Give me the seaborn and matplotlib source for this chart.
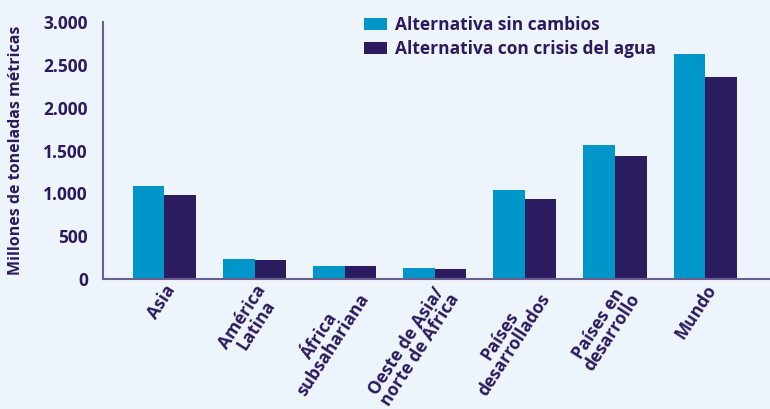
import matplotlib
matplotlib.use("Agg")
import matplotlib.pyplot as plt
import pandas as pd
import seaborn as sns

regiones = ["Asia", "América\nLatina", "África\nsubsahariana", "Oeste de Asia/\nnorte de África",
            "Países\ndesarrollados", "Países en\ndesarrollo", "Mundo"]
sin_cambios = [1085, 233, 152, 128, 1040, 1565, 2625]
crisis_agua = [980, 222, 150, 117, 935, 1435, 2358]
series = ["Alternativa sin cambios", "Alternativa con crisis del agua"]

df = pd.DataFrame({
    "region": regiones * 2,
    "valor": sin_cambios + crisis_agua,
    "serie": [series[0]] * len(regiones) + [series[1]] * len(regiones),
})

bg = "#EEF4FB"
navy = "#2B1B5E"
axis_col = "#6B5F92"

sns.set_theme(style="white")
plt.rcParams["font.family"] = ["Open Sans", "DejaVu Sans"]
plt.rcParams["font.weight"] = "bold"

fig = plt.figure(figsize=(7.7, 4.09), dpi=100, facecolor=bg)
ax = fig.add_axes([0.134, 0.318, 0.866, 0.628])
ax.set_facecolor(bg)

sns.barplot(data=df, x="region", y="valor", hue="serie", palette=["#0096C9", "#2A1C5F"],
            width=0.7, saturation=1, linewidth=0, ax=ax)

ax.set_ylim(0, 3000)
ax.set_xlim(-0.68, 6.72)
ax.set_yticks(range(0, 3001, 500))
ax.set_yticklabels(["0", "500", "1.000", "1.500", "2.000", "2.500", "3.000"],
                   fontsize=12.5, fontweight="bold", color=navy)
ax.set_xticks(range(len(regiones)))
ax.set_xticklabels(regiones, rotation=57, ha="right", va="top", rotation_mode="anchor",
                   fontsize=12.5, fontweight="bold", color=navy, linespacing=0.85,
                   multialignment="center")
ax.tick_params(axis="y", direction="inout", length=14, width=1.2, color=axis_col, pad=4)
ax.tick_params(axis="x", length=0, pad=2)
ax.set_xlabel("")
ax.set_ylabel("Millones de toneladas métricas", fontsize=11.5, fontweight="bold", color=navy, labelpad=14)

for s in ["top", "right"]:
    ax.spines[s].set_visible(False)
for s in ["left", "bottom"]:
    ax.spines[s].set_color(axis_col)
    ax.spines[s].set_linewidth(1.5)

ax.legend(loc="upper left", bbox_to_anchor=(0.368, 1.085), frameon=False,
          handlelength=1.3, handleheight=0.7, handletextpad=0.5, labelspacing=0.35,
          prop={"weight": "bold", "size": 12.5})
for t in ax.get_legend().get_texts():
    t.set_color(navy)

fig.savefig("out.png", dpi=100, facecolor=bg)
